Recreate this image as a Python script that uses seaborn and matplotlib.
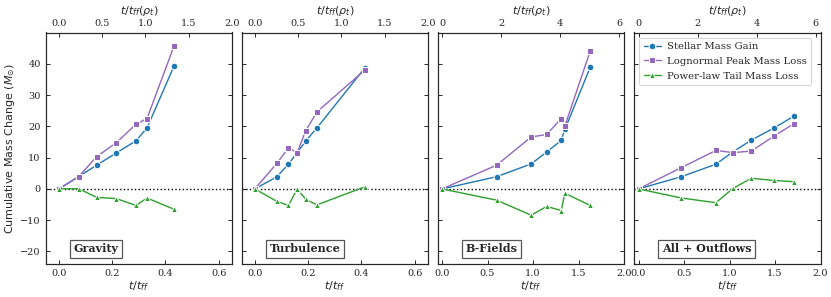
import numpy as np
import pandas as pd
import matplotlib
matplotlib.use("Agg")
import matplotlib.pyplot as plt
import seaborn as sns

sns.set_style("ticks")
plt.rcParams['font.family'] = ['DejaVu Serif']
plt.rcParams['mathtext.fontset'] = 'dejavusans'

# ---------------- data ----------------
panels = ["Gravity", "Turbulence", "B-Fields", "All + Outflows"]

grav_t = [0.0, 0.074, 0.142, 0.216, 0.290, 0.331, 0.432]
grav_star = [0.0, 3.9, 7.6, 11.5, 15.4, 19.5, 39.2]
grav_logn = [0.0, 3.9, 10.3, 14.8, 20.7, 22.5, 45.6]
grav_plaw = [0.0, 0.1, -2.7, -3.1, -5.3, -2.9, -6.5]

turb_t = [0.0, 0.083, 0.126, 0.159, 0.191, 0.233, 0.414]
turb_star = [0.0, 3.9, 7.9, 11.6, 15.3, 19.5, 38.8]
turb_logn = [0.0, 8.2, 13.1, 11.6, 18.6, 24.6, 38.1]
turb_plaw = [0.0, -4.0, -5.3, 0.0, -3.3, -5.1, 0.7]

bfld_t = [0.0, 0.60, 0.98, 1.15, 1.31, 1.35, 1.63]
bfld_star = [0.0, 3.9, 8.0, 11.8, 15.5, 19.0, 39.0]
bfld_logn = [0.0, 7.6, 16.6, 17.4, 22.5, 20.1, 44.2]
bfld_plaw = [0.0, -3.6, -8.4, -5.6, -6.9, -1.4, -5.3]

allo_t = [0.0, 0.47, 0.85, 1.04, 1.24, 1.49, 1.71]
allo_star = [0.0, 3.9, 7.9, 11.9, 15.6, 19.5, 23.3]
allo_logn = [0.0, 6.8, 12.3, 11.6, 12.1, 16.9, 20.9]
allo_plaw = [0.0, -2.9, -4.4, 0.2, 3.4, 2.7, 2.3]

series_names = ["Stellar Mass Gain", "Lognormal Peak Mass Loss", "Power-law Tail Mass Loss"]
series_colors = ["#1f77b4", "#9467bd", "#2ca02c"]
series_markers = ["o", "s", "^"]

bottom_xlims = [(-0.05, 0.65), (-0.05, 0.65), (-0.05, 2.0), (-0.05, 2.0)]
bottom_xticks = [[0.0, 0.2, 0.4, 0.6], [0.0, 0.2, 0.4, 0.6],
                 [0.0, 0.5, 1.0, 1.5, 2.0], [0.0, 0.5, 1.0, 1.5, 2.0]]
top_xticks = [[0.0, 0.5, 1.0, 1.5, 2.0], [0.0, 0.5, 1.0, 1.5, 2.0],
              [0, 2, 4, 6], [0, 2, 4, 6]]
tscale = 3.08  # t/tff(rho_t) per t/tff

data = [
    (grav_t, grav_star, grav_logn, grav_plaw),
    (turb_t, turb_star, turb_logn, turb_plaw),
    (bfld_t, bfld_star, bfld_logn, bfld_plaw),
    (allo_t, allo_star, allo_logn, allo_plaw),
]

# ---------------- figure ----------------
fig = plt.figure(figsize=(8.31, 2.97), dpi=100)
lefts = [45.5, 241.5, 437.5, 634.0]
width = 186.5
top_px, bot_px = 32.5, 264.0
W, H = 831.0, 297.0

fs_tick = 7
axes = []
for i, (name, (t, s, l, p)) in enumerate(zip(panels, data)):
    ax = fig.add_axes([lefts[i] / W, 1 - bot_px / H, width / W, (bot_px - top_px) / H])
    axes.append(ax)
    for vals, nm, col, mk in zip((s, l, p), series_names, series_colors, series_markers):
        df = pd.DataFrame({"t": t, "v": vals})
        sns.lineplot(data=df, x="t", y="v", ax=ax, sort=False, color=col, marker=mk,
                     markersize=4.8, linewidth=1.0, label=nm if i == 3 else None,
                     legend=(i == 3))
    ax.axhline(0, color="black", linestyle=":", linewidth=1.0, zorder=0)
    ax.set_xlim(*bottom_xlims[i])
    ax.set_ylim(-24, 50)
    ax.set_xticks(bottom_xticks[i])
    ax.set_yticks([-20, -10, 0, 10, 20, 30, 40])
    ax.tick_params(direction="in", right=True, labelsize=fs_tick, length=3, width=0.7)
    if i > 0:
        ax.set_yticklabels([])
        ax.set_ylabel("")
    else:
        ax.set_ylabel(r"Cumulative Mass Change ($M_{\odot}$)", family="DejaVu Sans",
                      fontsize=8, labelpad=2)
    ax.set_xlabel(r"$t/t_{ff}$", fontsize=8, labelpad=1)
    for sp in ax.spines.values():
        sp.set_linewidth(0.8)

    ax2 = ax.twiny()
    ax2.set_xlim(bottom_xlims[i][0] * tscale, bottom_xlims[i][1] * tscale)
    ax2.set_xticks(top_xticks[i])
    ax2.tick_params(direction="in", labelsize=fs_tick, length=3, width=0.7)
    ax2.set_xlabel(r"$t/t_{ff}(\rho_t)$", fontsize=8, labelpad=3)

    ax.text(0.15, 0.065, name, transform=ax.transAxes, fontsize=8, fontweight="bold",
            ha="left", va="center", family="DejaVu Serif",
            bbox=dict(boxstyle="square,pad=0.35", facecolor="white", edgecolor="#555555",
                      linewidth=0.9), zorder=5)

    if i == 3:
        leg = ax.legend(loc="upper left", fontsize=7.3, frameon=True, handlelength=1.7,
                        handletextpad=0.6, borderpad=0.45, labelspacing=0.55,
                        bbox_to_anchor=(0.0, 1.0))
        leg.get_frame().set_linewidth(0.8)

fig.savefig("out.png", dpi=100)
